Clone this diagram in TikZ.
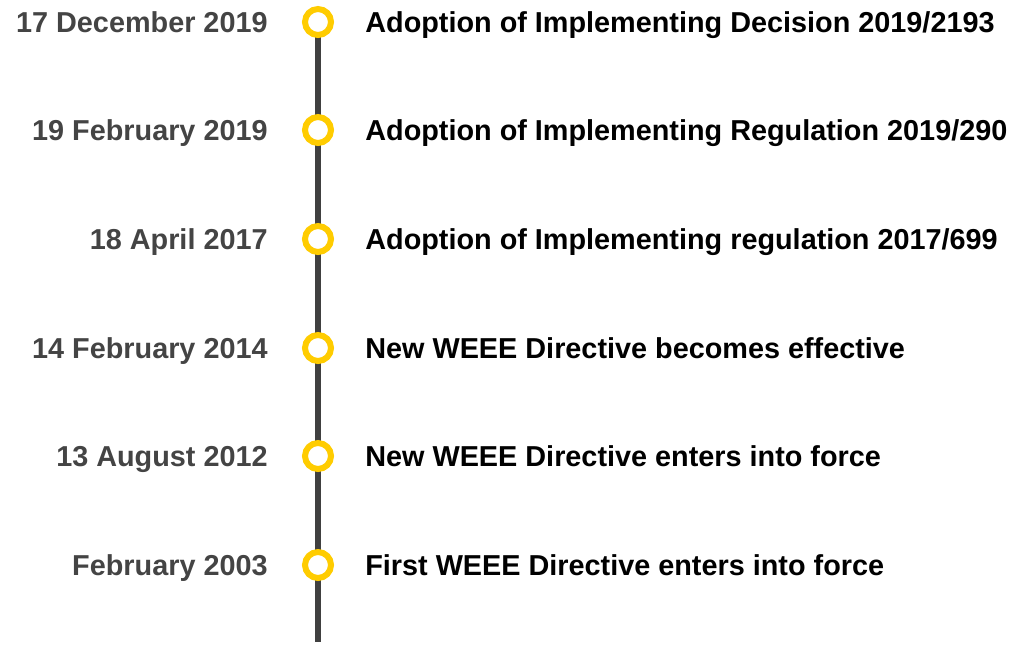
\documentclass[tikz,border=0pt]{standalone}
\usepackage{fontspec}
\setmainfont{Liberation Sans}
\definecolor{axisgray}{HTML}{404040}
\definecolor{dotyellow}{HTML}{FFCC00}
\definecolor{dategray}{HTML}{444444}

\begin{document}
\begin{tikzpicture}[x=0.02cm,y=-0.02cm,
    dot/.style={circle,draw=dotyellow,fill=white,line width=0.12cm,minimum size=0.52cm,inner sep=0pt},
    datelabel/.style={anchor=base east,yshift=-0.2cm,font=\bfseries\fontsize{16.4}{19}\selectfont,text=dategray,inner sep=0pt},
    eventlabel/.style={anchor=base west,yshift=-0.2cm,font=\bfseries\fontsize{16.4}{19}\selectfont,text=black,inner sep=0pt}]
    \useasboundingbox (0,0) rectangle (1012,650);
    % dates and events
    \foreach \i/\y/\date/\event in {
        1/22/17 December 2019/Adoption of Implementing Decision 2019\slash 2193,
        2/130/19 February 2019/Adoption of Implementing Regulation 2019\slash 290,
        3/239/18 April 2017/Adoption of Implementing regulation 2017\slash 699,
        4/348/14 February 2014/New WEEE Directive becomes effective,
        5/456/13 August 2012/New WEEE Directive enters into force,
        6/565/February 2003/First WEEE Directive enters into force}{
        \coordinate (p\i) at (318,\y);
        \node[datelabel] (d\i) at (268,\y) {\date};
        \node[eventlabel] (e\i) at (365,\y) {\event};
    }
    % axis
    \coordinate (end) at (318,642);
    \draw[axisgray,line width=0.12cm] (p1) -- (end);
    % circles
    \foreach \i in {1,...,6}
        \node[dot] (c\i) at (p\i) {};
\end{tikzpicture}
\end{document}
